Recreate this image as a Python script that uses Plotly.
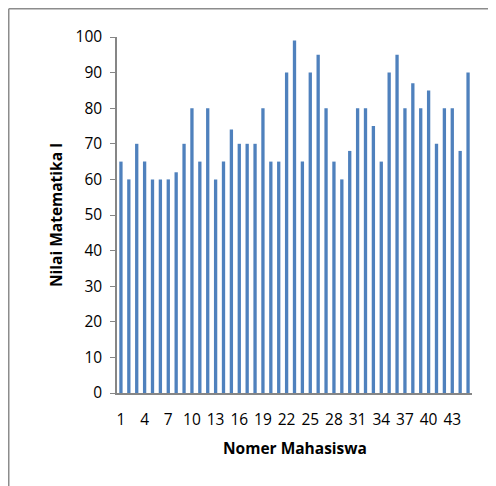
import plotly.graph_objects as go

students = list(range(1, 46))
scores = [65, 60, 70, 65, 60, 60, 60, 62, 70, 80, 65, 80, 60, 65, 74, 70, 70, 70, 80, 65, 65, 90, 99,
          65, 90, 95, 80, 65, 60, 68, 80, 80, 75, 65, 90, 95, 80, 87, 80, 85, 70, 80, 80, 68, 90]
x_ticks = list(range(1, 44, 3))
y_ticks = list(range(0, 101, 10))

FONT = "Open Sans"
FS = 15.5
# page body has an 8px margin, so the figure is laid out relative to that offset
W, H = 488, 478
L, R, T, B = 109, 24, 29, 93
pw, ph = W - L - R, H - T - B

fig = go.Figure(go.Bar(x=students, y=scores, marker=dict(color="#4F81BD", line=dict(width=0)), width=0.42))

def px_x(p):
    return (p - L) / pw

def px_y(p):
    return (H - B - p) / ph

fig.update_layout(
    width=W, height=H,
    margin=dict(l=L, r=R, t=T, b=B),
    paper_bgcolor="white", plot_bgcolor="white",
    font=dict(family=FONT, size=FS, color="#000000"),
    showlegend=False,
    xaxis=dict(range=[0.5, 45.5], tickmode="array", tickvals=x_ticks, ticktext=[str(v) for v in x_ticks],
               showline=True, linecolor="#868686", linewidth=1.5, ticks="", showgrid=False, zeroline=False,
               ticklabelstandoff=12, tickfont=dict(size=FS, family=FONT)),
    yaxis=dict(range=[0, 100], tickmode="array", tickvals=y_ticks, showline=True, linecolor="#868686",
               linewidth=1.5, ticks="outside", ticklen=5, tickcolor="#868686", showgrid=False, zeroline=False,
               ticklabelstandoff=5, tickfont=dict(size=FS, family=FONT)),
    annotations=[
        dict(text="<b>Nomer Mahasiswa</b>", xref="paper", yref="paper", x=px_x(287), y=px_y(440),
             showarrow=False, font=dict(size=FS, family=FONT), xanchor="center", yanchor="middle"),
        dict(text="<b>Nilai Matematika I</b>", xref="paper", yref="paper", x=px_x(48), y=px_y(207),
             showarrow=False, textangle=-90, font=dict(size=FS, family=FONT), xanchor="center", yanchor="middle"),
    ],
    shapes=[
        dict(type="line", xref="paper", yref="paper", x0=px_x(0.75), x1=px_x(520), y0=px_y(0.75), y1=px_y(0.75),
             line=dict(color="#8C8C8C", width=1.5)),
        dict(type="line", xref="paper", yref="paper", x0=px_x(0.75), x1=px_x(0.75), y0=px_y(0.75), y1=px_y(520),
             line=dict(color="#8C8C8C", width=1.5)),
    ],
)

fig.write_html("out.html")
